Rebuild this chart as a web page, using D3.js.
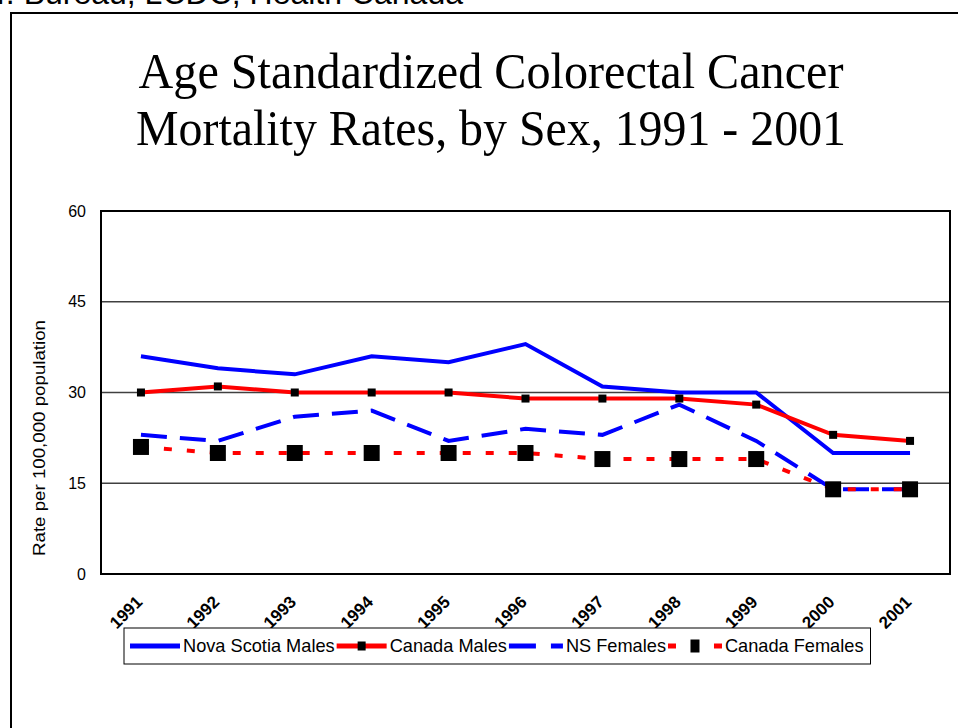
<!DOCTYPE html>
<html lang="en">
<head>
  <meta charset="UTF-8">
  <title>Age Standardized Colorectal Cancer Mortality Rates, by Sex, 1991 - 2001</title>
  <script src="https://d3js.org/d3.v7.min.js"></script>
  <style>
    body { margin: 0; background: white; }
    svg { display: block; }
    .axis text { font-family: "Liberation Sans", Arial, sans-serif; fill: black; }
    .legend text { font-family: "Liberation Sans", Arial, sans-serif; font-size: 18.2px; }
  </style>
</head>
<body>
  <div id="chart"></div>

  <script>
    // chart data
    const years = ["1991", "1992", "1993", "1994", "1995", "1996", "1997", "1998", "1999", "2000", "2001"];
    const nsMales = [36, 34, 33, 36, 35, 38, 31, 30, 30, 20, 20];
    const canadaMales = [30, 31, 30, 30, 30, 29, 29, 29, 28, 23, 22];
    const nsFemales = [23, 22, 26, 27, 22, 24, 23, 28, 22, 14, 14];
    const canadaFemales = [21, 20, 20, 20, 20, 20, 19, 19, 19, 14, 14];
    const yTicks = [0, 15, 30, 45, 60];
    const seriesNames = ["Nova Scotia Males", "Canada Males", "NS Females", "Canada Females"];
    const titleLines = ["Age Standardized Colorectal Cancer", "Mortality Rates, by Sex, 1991 - 2001"];

    const series = [
      { name: seriesNames[0], values: nsMales, color: "#0000ff", dash: null, legendDash: null, marker: 0 },
      { name: seriesNames[1], values: canadaMales, color: "#ff0000", dash: null, legendDash: null, marker: 8 },
      { name: seriesNames[2], values: nsFemales, color: "#0000ff", dash: "26,13", legendDash: "27,15", marker: 0 },
      { name: seriesNames[3], values: canadaFemales, color: "#ff0000", dash: "8,15", legendDash: "8,38", marker: 16 }
    ];

    const W = 958, H = 728;
    const plot = { left: 101, top: 211, right: 950, bottom: 574 };

    const svg = d3.select("#chart")
      .append("svg")
      .attr("width", W)
      .attr("height", H);

    // cut-off source line above the frame
    svg.append("text")
      .attr("x", 463)
      .attr("y", 4)
      .attr("text-anchor", "end")
      .style("font-family", "Liberation Sans, Arial, sans-serif")
      .style("font-size", "32px")
      .text("Source: Statistics Canada; Cancer Surveillance Dir. Bureau, LCDC, Health Canada");

    // outer frame
    svg.append("path")
      .attr("d", `M11,${H + 5} V13 H${W + 5}`)
      .attr("fill", "none")
      .attr("stroke", "black")
      .attr("stroke-width", 2);

    // title
    svg.selectAll(".title")
      .data(titleLines)
      .enter()
      .append("text")
      .attr("class", "title")
      .attr("x", 491)
      .attr("y", (d, i) => 88 + i * 57)
      .attr("text-anchor", "middle")
      .attr("textLength", (d, i) => i === 0 ? 705 : 710)
      .attr("lengthAdjust", "spacingAndGlyphs")
      .style("font-family", "Liberation Serif, Times New Roman, serif")
      .style("font-size", "51px")
      .text(d => d);

    const x = d3.scalePoint()
      .domain(years)
      .range([plot.left + 1.5, plot.right - 1.5])
      .padding(0.5);

    const y = d3.scaleLinear()
      .domain([0, 60])
      .range([plot.bottom, plot.top]);

    // gridlines
    svg.append("g")
      .selectAll("line")
      .data(yTicks.filter(t => t > 0 && t < 60))
      .enter()
      .append("line")
      .attr("x1", plot.left)
      .attr("x2", plot.right)
      .attr("y1", d => y(d))
      .attr("y2", d => y(d))
      .attr("stroke", "#404040")
      .attr("stroke-width", 1.5);

    // plot border
    svg.append("rect")
      .attr("x", plot.left)
      .attr("y", plot.top)
      .attr("width", plot.right - plot.left)
      .attr("height", plot.bottom - plot.top)
      .attr("fill", "none")
      .attr("stroke", "black")
      .attr("stroke-width", 2);

    // y axis
    const yAxis = svg.append("g")
      .attr("class", "axis")
      .attr("transform", `translate(${plot.left},0)`)
      .call(d3.axisLeft(y).tickValues(yTicks).tickSize(0).tickPadding(15));
    yAxis.select(".domain").remove();
    yAxis.selectAll("text").style("font-size", "16px");

    svg.append("text")
      .attr("transform", "translate(45,438) rotate(-90)")
      .attr("text-anchor", "middle")
      .attr("textLength", 236)
      .attr("lengthAdjust", "spacingAndGlyphs")
      .style("font-family", "Liberation Sans, Arial, sans-serif")
      .style("font-size", "17px")
      .text("Rate per 100,000 population");

    // x axis
    const xAxis = svg.append("g")
      .attr("class", "axis")
      .attr("transform", `translate(0,${plot.bottom})`)
      .call(d3.axisBottom(x).tickSize(0));
    xAxis.select(".domain").remove();
    xAxis.selectAll("text")
      .attr("y", 0)
      .attr("dy", 0)
      .attr("transform", "translate(2,29) rotate(-45)")
      .style("text-anchor", "end")
      .style("font-size", "17px")
      .style("font-weight", "bold");

    const line = d3.line()
      .x((d, i) => x(years[i]))
      .y(d => y(d));

    series.forEach(s => {
      svg.append("path")
        .datum(s.values)
        .attr("fill", "none")
        .attr("stroke", s.color)
        .attr("stroke-width", 4)
        .attr("stroke-dasharray", s.dash)
        .attr("d", line);

      if (s.marker) {
        svg.append("g")
          .selectAll("rect")
          .data(s.values)
          .enter()
          .append("rect")
          .attr("x", (d, i) => x(years[i]) - s.marker / 2)
          .attr("y", d => y(d) - s.marker / 2)
          .attr("width", s.marker)
          .attr("height", s.marker)
          .attr("fill", "black");
      }
    });

    // legend
    const legend = svg.append("g").attr("class", "legend");
    const legendBox = legend.append("rect")
      .attr("x", 124)
      .attr("y", 628)
      .attr("height", 36)
      .attr("fill", "white")
      .attr("stroke", "black")
      .attr("stroke-width", 1);

    let lx = 130;
    const ly = 646;
    series.forEach(s => {
      const sw = s.legendDash ? 54 : 50;
      legend.append("line")
        .attr("x1", lx)
        .attr("x2", lx + sw)
        .attr("y1", ly)
        .attr("y2", ly)
        .attr("stroke", s.color)
        .attr("stroke-width", 5)
        .attr("stroke-dasharray", s.legendDash);
      if (s.marker) {
        const mw = s.marker === 16 ? 9 : 8;
        const mh = s.marker === 16 ? 13 : 9;
        legend.append("rect")
          .attr("x", lx + sw / 2 - mw / 2)
          .attr("y", ly - mh / 2)
          .attr("width", mw)
          .attr("height", mh)
          .attr("fill", "black");
      }
      const t = legend.append("text")
        .attr("x", lx + sw + 3)
        .attr("y", ly)
        .attr("dy", "0.35em")
        .text(s.name);
      lx = lx + sw + 3 + t.node().getComputedTextLength() + 2;
    });
    legendBox.attr("width", lx + 5 - 124);
  </script>
</body>
</html>
